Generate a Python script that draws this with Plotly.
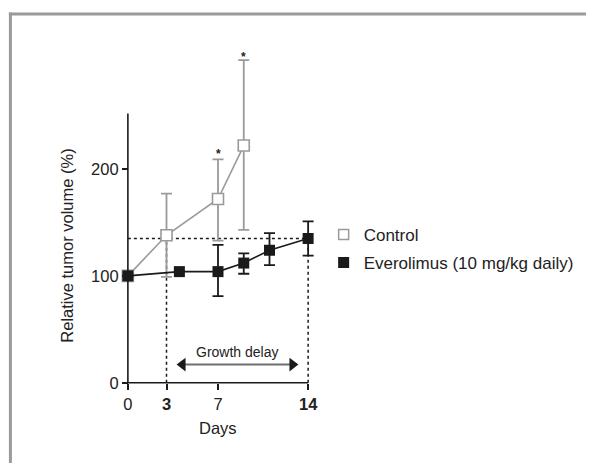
import plotly.graph_objects as go

# Data
ctrl_days = [0, 3, 7, 9]
ctrl_vol = [100, 138, 172, 222]
ctrl_err_plus = [0, 39, 37, 80]
ctrl_err_minus = [0, 39, 39, 79]

evr_days = [0, 4, 7, 9, 11, 14]
evr_vol = [100, 104, 104, 112, 124, 135]
evr_err_plus = [0, 0, 25, 9, 16, 16]
evr_err_minus = [0, 0, 23, 10, 14, 16]

x_ticks = [0, 3, 7, 14]
x_ticktext = ["0", "<b>3</b>", "7", "<b>14</b>"]
y_ticks = [0, 100, 200]

ref_level = 135          # horizontal dotted reference
delay_start, delay_end = 3, 14
arrow_y = 17
arrow_x = [4.25, 12.78]
star_x = [7, 9]
star_y = [214, 305]

GRAY = "#9a9a9a"
BLACK = "#1a1a1a"
TXT = "#222222"
FONT = "Liberation Sans, Arial, sans-serif"

# page body has an 8px margin; compensate
OFF = 8
W, H = 594, 463
PL, PR, PT, PB = 115.14, 320.86, 42.8, 387.3   # desired on-screen plot area

fig = go.Figure()

fig.add_trace(go.Scatter(
    x=ctrl_days, y=ctrl_vol, mode="lines+markers",
    line=dict(color=GRAY, width=1.6),
    marker=dict(symbol="square", size=11, color="white", line=dict(color=GRAY, width=1.6)),
    error_y=dict(type="data", symmetric=False, array=ctrl_err_plus, arrayminus=ctrl_err_minus,
                 color=GRAY, thickness=1.8, width=5.5),
    showlegend=False, cliponaxis=False))

fig.add_trace(go.Scatter(
    x=evr_days, y=evr_vol, mode="lines+markers",
    line=dict(color=BLACK, width=1.6),
    marker=dict(symbol="square", size=11, color=BLACK),
    error_y=dict(type="data", symmetric=False, array=evr_err_plus, arrayminus=evr_err_minus,
                 color=BLACK, thickness=1.8, width=5.5),
    showlegend=False, cliponaxis=False))

# growth delay arrow
fig.add_trace(go.Scatter(
    x=arrow_x, y=[arrow_y, arrow_y], mode="lines+markers",
    line=dict(color="#6e6e6e", width=2),
    marker=dict(symbol=["triangle-left", "triangle-right"], size=12, color=BLACK),
    showlegend=False, hoverinfo="skip", cliponaxis=False))

# legend entries
fig.add_trace(go.Scatter(
    x=[None], y=[None], mode="markers", name="Control",
    marker=dict(symbol="square", size=10, color="white", line=dict(color=GRAY, width=1.5)),
    legend="legend"))
fig.add_trace(go.Scatter(
    x=[None], y=[None], mode="markers", name="Everolimus (10 mg/kg daily)",
    marker=dict(symbol="square", size=11, color=BLACK),
    legend="legend2"))


def px(sx):
    return (sx - PL) / (PR - PL)


def py(sy):
    return (PB - sy) / (PB - PT)


shapes = [
    # axis lines
    dict(type="line", xref="x", yref="y", x0=0, x1=0, y0=0, y1=252, line=dict(color=BLACK, width=1.6)),
    dict(type="line", xref="x", yref="y", x0=0, x1=14, y0=0, y1=0, line=dict(color=BLACK, width=1.6)),
    # dotted guides
    dict(type="line", xref="x", yref="y", x0=0, x1=14, y0=ref_level, y1=ref_level,
         line=dict(color=BLACK, width=1.5, dash="dot"), layer="below"),
    dict(type="line", xref="x", yref="y", x0=delay_start, x1=delay_start, y0=0, y1=ctrl_vol[1],
         line=dict(color=BLACK, width=1.5, dash="dot"), layer="below"),
    dict(type="line", xref="x", yref="y", x0=delay_end, x1=delay_end, y0=0, y1=ref_level,
         line=dict(color=BLACK, width=1.5, dash="dot"), layer="below"),
    # frame (top and left edges; the rest runs off the page)
    dict(type="line", xref="paper", yref="paper", x0=px(9.2), x1=px(1000), y0=py(13.7), y1=py(13.7),
         line=dict(color=GRAY, width=3), layer="below"),
    dict(type="line", xref="paper", yref="paper", x0=px(10.7), x1=px(10.7), y0=py(12.2), y1=py(1000),
         line=dict(color=GRAY, width=3), layer="below"),
]

annotations = [
    dict(text="Growth delay", x=8.5, y=29, xref="x", yref="y", showarrow=False,
         font=dict(size=14, color=TXT, family=FONT)),
    dict(text="Relative tumor volume (%)", x=px(67), y=py(246), xref="paper", yref="paper",
         xanchor="center", yanchor="middle",
         textangle=-90, showarrow=False, font=dict(size=16.5, color=TXT, family=FONT)),
    dict(text="Days", x=7, y=py(428), xref="x", yref="paper", xanchor="center", yanchor="middle",
         showarrow=False, font=dict(size=16.5, color=TXT, family=FONT)),
]
for sx, sy in zip(star_x, star_y):
    annotations.append(dict(text="<b>*</b>", x=sx, y=sy, xref="x", yref="y", showarrow=False,
                            font=dict(size=12, color=TXT, family=FONT)))

fig.update_layout(
    width=W, height=H,
    margin=dict(l=PL - OFF, r=W - (PR - OFF), t=PT - OFF, b=H - (PB - OFF)),
    paper_bgcolor="white", plot_bgcolor="white",
    font=dict(family=FONT, size=16.5, color=TXT),
    xaxis=dict(range=[-1, 15], tickvals=x_ticks, ticktext=x_ticktext, showgrid=False,
               zeroline=False, showline=False, ticks="outside", ticklen=6, tickwidth=1.5,
               tickcolor=BLACK, anchor="free", position=4 / 322,
               tickfont=dict(size=16.5, color=TXT)),
    yaxis=dict(range=[-4, 318], tickvals=y_ticks, showgrid=False, zeroline=False,
               showline=False, ticks="outside", ticklen=6, tickwidth=1.5, tickcolor=BLACK,
               anchor="free", position=1 / 16, tickfont=dict(size=16.5, color=TXT)),
    legend=dict(x=px(323.5), y=py(235), xanchor="left", yanchor="middle", bgcolor="rgba(0,0,0,0)",
                font=dict(size=17, color=TXT, family=FONT), itemsizing="trace"),
    legend2=dict(x=px(323.5), y=py(263), xanchor="left", yanchor="middle", bgcolor="rgba(0,0,0,0)",
                 font=dict(size=17, color=TXT, family=FONT), itemsizing="trace"),
    shapes=shapes, annotations=annotations,
)

fig.write_html("out.html")
